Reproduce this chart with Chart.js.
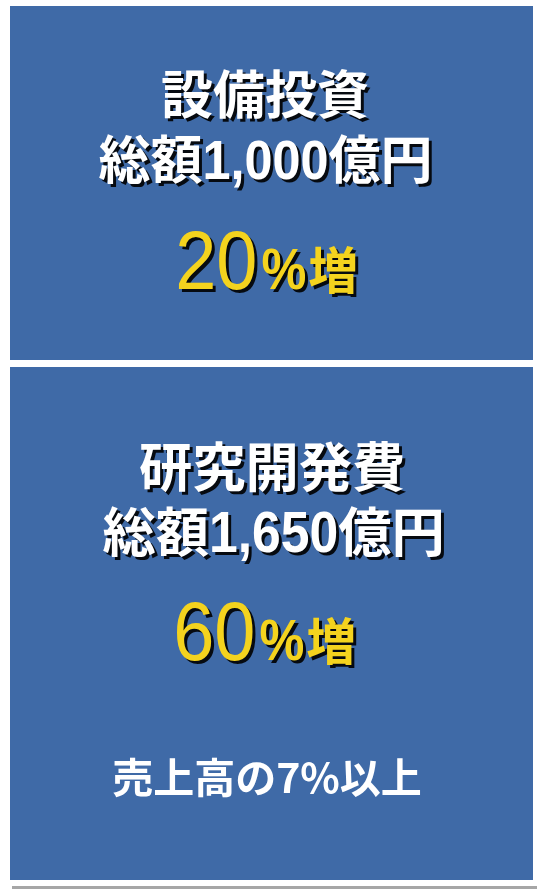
<!DOCTYPE html>
<html><head><meta charset="utf-8">
<script src="https://cdn.jsdelivr.net/npm/chart.js@4.4.1/dist/chart.umd.min.js"></script>
<style>html,body{margin:0;padding:0;background:#fff;}#wrap{width:537px;height:889px;position:relative;}</style>
</head><body><div id="wrap"><canvas id="c"></canvas></div>
<script>
// ---- data ----
const panelTitles = ["設備投資", "研究開発費"];
const totalAmounts = [1000, 1650];      // 億円
const increaseRates = [20, 60];         // %
const panelNotes = ["", "売上高の7%以上"];
const totalPrefix = "総額";
const unitLabel = "億円";
const increaseSuffix = "増";

// ---- layout / style ----
const CJK = '"Noto Sans CJK JP", "Noto Sans CJK SC", sans-serif';
const LAT = '"Liberation Sans", Arial, sans-serif';
const BLUE = '#3F6AA7', YELLOW = '#F4D31E', WHITE = '#FFFFFF';
const panels = [
  {x:10, y:6, w:523, h:354, k:1.0, title:[265,94], total:[264,161], inc:[267,262], note:null},
  {x:10, y:367, w:523, h:513, k:1.025, title:[271.5,467], total:[272,533], inc:[265,634], note:[267,777]}
];

function drawLine(ctx, segs, cx, cy, shadow) {
  let x = 0, left = null, right = 0, asc = 0, desc = 0;
  const ms = segs.map(s => {
    ctx.font = s.font;
    const m = ctx.measureText(s.t);
    const sx = s.sx || 1;
    const o = {s, sx, x, m};
    if (left === null) left = x - m.actualBoundingBoxLeft * sx;
    right = x + m.actualBoundingBoxRight * sx;
    asc = Math.max(asc, m.actualBoundingBoxAscent);
    desc = Math.max(desc, m.actualBoundingBoxDescent);
    x += m.width * sx + (s.gap || 0);
    return o;
  });
  const x0 = cx - (left + right) / 2;
  const base = cy + (asc - desc) / 2;
  ms.forEach(o => {
    ctx.save();
    ctx.font = o.s.font;
    ctx.fillStyle = o.s.color;
    if (shadow) {
      ctx.shadowColor = 'rgba(0,0,0,0.9)';
      ctx.shadowOffsetX = 3; ctx.shadowOffsetY = 3; ctx.shadowBlur = 0;
    }
    ctx.translate(x0 + o.x, base);
    ctx.scale(o.sx, 1);
    ctx.textBaseline = 'alphabetic';
    ctx.textAlign = 'left';
    if (o.s.ls) ctx.letterSpacing = o.s.ls + 'px';
    ctx.fillText(o.s.t, 0, 0);
    ctx.restore();
  });
}

const infoPlugin = {
  id: 'infoPanels',
  beforeDraw(chart) {
    const ctx = chart.ctx;
    const d = chart.data;
    ctx.save();
    ctx.fillStyle = '#fff';
    ctx.fillRect(0, 0, chart.width, chart.height);
    ctx.fillStyle = '#A6A6A6';
    ctx.fillRect(12, 886, 525, 3);
    d.labels.forEach((title, i) => {
      const p = panels[i];
      const f = n => (n * p.k).toFixed(1) + 'px ';
      ctx.fillStyle = BLUE;
      ctx.fillRect(p.x, p.y, p.w, p.h);
      drawLine(ctx, [{t:title, font:'bold ' + f(52) + CJK, color:WHITE}], p.title[0], p.title[1], true);
      const amt = d.datasets[0].data[i].toLocaleString('en-US');
      drawLine(ctx, [
        {t:totalPrefix, font:'bold ' + f(52) + CJK, color:WHITE},
        {t:amt, font:'bold ' + f(56) + LAT, sx:0.9, color:WHITE},
        {t:unitLabel, font:'bold ' + f(52) + CJK, color:WHITE}
      ], p.total[0], p.total[1], true);
      const rate = String(d.datasets[1].data[i]);
      drawLine(ctx, [
        {t:rate, font:'84px ' + LAT, sx:0.88, color:YELLOW, gap:4},
        {t:'%', font:'bold 58px ' + LAT, sx:0.87, color:YELLOW, gap:2},
        {t:increaseSuffix, font:'bold 50px ' + CJK, color:YELLOW}
      ], p.inc[0], p.inc[1], true);
      const note = d.datasets[2].data[i];
      if (note && p.note) {
        drawLine(ctx, [{t:note, font:'bold 41px ' + CJK, color:WHITE}], p.note[0], p.note[1], false);
      }
    });
    ctx.restore();
  }
};

new Chart(document.getElementById('c'), {
  type: 'bar',
  data: {
    labels: panelTitles,
    datasets: [
      {label:'総額', data: totalAmounts, hidden:true},
      {label:'増加率', data: increaseRates, hidden:true},
      {label:'備考', data: panelNotes, hidden:true}
    ]
  },
  options: {
    responsive: true, maintainAspectRatio: false, animation: false,
    layout: {padding: 0},
    plugins: {legend:{display:false}, tooltip:{enabled:false}, title:{display:false}},
    scales: {x:{display:false}, y:{display:false}}
  },
  plugins: [infoPlugin]
});
</script>
</body></html>
